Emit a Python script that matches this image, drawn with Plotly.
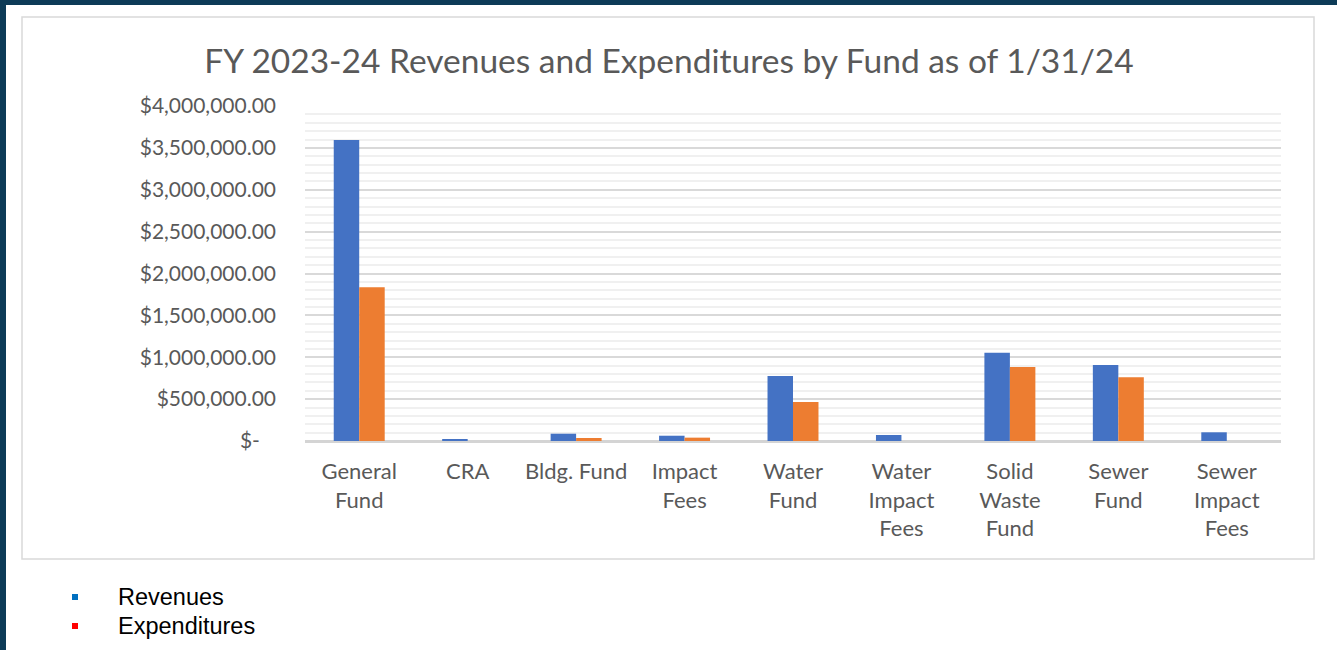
import plotly.graph_objects as go

categories = ["General<br>Fund", "CRA", "Bldg. Fund", "Impact<br>Fees", "Water<br>Fund",
              "Water<br>Impact<br>Fees", "Solid<br>Waste<br>Fund", "Sewer<br>Fund", "Sewer<br>Impact<br>Fees"]
revenues = [3594000, 20000, 87000, 63000, 776000, 72000, 1054000, 907000, 104000]
expenditures = [1835000, 0, 36000, 40000, 466000, 0, 884000, 760000, 0]
tick_vals = [0, 500000, 1000000, 1500000, 2000000, 2500000, 3000000, 3500000, 4000000]
tick_text = ["$-\u00a0\u00a0\u00a0", "$500,000.00", "$1,000,000.00", "$1,500,000.00", "$2,000,000.00",
             "$2,500,000.00", "$3,000,000.00", "$3,500,000.00", "$4,000,000.00"]
title_text = "FY 2023-24 Revenues and Expenditures by Fund as of 1/31/24"
notes = ["Revenues", "Expenditures"]
note_colors = ["#0070C0", "#FF0000"]

W, H = 1337, 650
L, R, T, B = 305, 1281, 106, 441  # plot area in pixels


def px(x):
    return (x - L) / (R - L)


def py(y):
    return (B - y) / (B - T)


FONT = "Lato"
GRAY = "#595959"

fig = go.Figure()
fig.add_trace(go.Bar(x=categories, y=revenues, name="Revenues", marker=dict(color="#4472C4", line=dict(width=0))))
fig.add_trace(go.Bar(x=categories, y=expenditures, name="Expenditures", marker=dict(color="#ED7D31", line=dict(width=0))))

shapes = [
    # dark slide frame
    dict(type="rect", xref="paper", yref="paper", x0=px(0), x1=px(6), y0=py(0), y1=py(H),
         fillcolor="#0D3B57", line=dict(width=0), layer="below"),
    dict(type="rect", xref="paper", yref="paper", x0=px(0), x1=px(W), y0=py(0), y1=py(5),
         fillcolor="#0D3B57", line=dict(width=0), layer="below"),
    # chart box
    dict(type="rect", xref="paper", yref="paper", x0=px(22), x1=px(1314), y0=py(17), y1=py(559),
         fillcolor="rgba(0,0,0,0)", line=dict(color="#D9D9D9", width=1.5), layer="below"),
]
annotations = []
for i, (t, c) in enumerate(zip(notes, note_colors)):
    yc = 597 + 29 * i
    shapes.append(dict(type="rect", xref="paper", yref="paper", x0=px(72), x1=px(78),
                       y0=py(yc - 3), y1=py(yc + 3), fillcolor=c, line=dict(width=0)))
    annotations.append(dict(text=t, xref="paper", yref="paper", x=px(116), y=py(yc),
                            xanchor="left", yanchor="middle", showarrow=False,
                            font=dict(family="Liberation Sans, Arial", size=23.5, color="#000000")))

fig.update_layout(
    width=W, height=H,
    margin=dict(l=L, r=W - R, t=T, b=H - B, pad=0),
    paper_bgcolor="white", plot_bgcolor="white",
    showlegend=False,
    barmode="group", bargap=0.53, bargroupgap=0,
    title=dict(text=title_text, x=669 / W, xanchor="center", xref="container",
               y=1 - 61 / H, yanchor="middle", yref="container",
               font=dict(family=FONT, size=33.5, color=GRAY)),
    shapes=shapes, annotations=annotations,
    xaxis=dict(showgrid=False, showline=False, ticks="", tickfont=dict(family=FONT, size=22, color=GRAY),
               ticklabelstandoff=15),
    yaxis=dict(range=[0, 4000000], tickvals=tick_vals, ticktext=tick_text,
               tickfont=dict(family=FONT, size=21, color=GRAY),
               showgrid=True, gridcolor="#D9D9D9", gridwidth=1.5,
               zeroline=True, zerolinecolor="#D4D4D4", zerolinewidth=2.5,
               showline=False, ticks="", ticklabelstandoff=28,
               minor=dict(dtick=100000, tick0=0, showgrid=True, gridcolor="#F0F0F0", gridwidth=1.5)),
)

fig.write_html("out.html", config={"displayModeBar": False},
               post_script="document.body.style.margin='0';")
